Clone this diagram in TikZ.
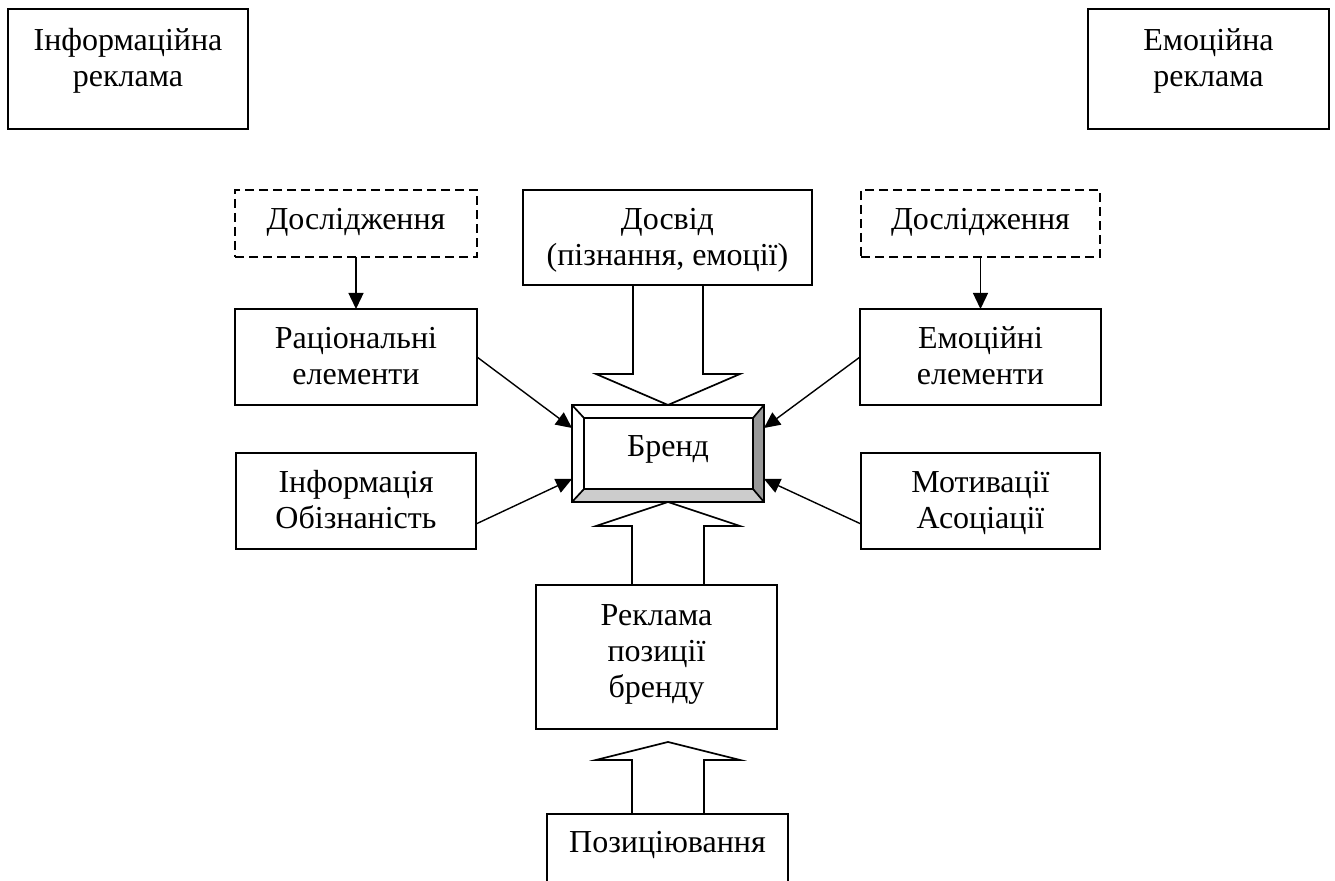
\documentclass[tikz,border=0pt]{standalone}
\usepackage{fontspec}
\setmainfont{Liberation Serif}
\usetikzlibrary{calc,arrows.meta}
\definecolor{bevellight}{HTML}{CCCCCC}
\definecolor{beveldark}{HTML}{999999}
\begin{document}
\begin{tikzpicture}[x=0.5pt,y=-0.5pt,
  box/.style={draw, line width=0.85pt, inner sep=0pt, outer sep=0pt, align=center,
    font=\fontsize{16pt}{18pt}\selectfont},
  dbox/.style={box, dash pattern=on 4.5pt off 2.5pt},
  arr/.style={line width=0.7pt, -{Triangle[length=8pt,width=7.5pt]}},
  blockarr/.style={line width=0.85pt}]
\useasboundingbox (0,0) rectangle (1335,881);
\clip (0,0) rectangle (1335,881);

% top corner boxes
\node[box, minimum width=120pt, minimum height=60pt, text height=28pt, text depth=10pt] (inf) at (128,69) {Інформаційна\\реклама};
\node[box, minimum width=120.5pt, minimum height=60pt, text height=28pt, text depth=10pt] (emr) at (1208.5,69) {Емоційна\\реклама};

% research boxes
\node[dbox, minimum width=121pt, minimum height=33.5pt, text height=10pt, text depth=3.5pt] (dl) at (356,223.5) {Дослідження};
\node[dbox, minimum width=119.5pt, minimum height=33.5pt, text height=10pt, text depth=3.5pt] (dr) at (980.5,223.5) {Дослідження};

% experience
\node[box, minimum width=144.5pt, minimum height=47.5pt, text height=28.5pt, text depth=0pt] (dosvid) at (667.5,237.5) {Досвід\\(пізнання, емоції)};

% side boxes
\node[box, minimum width=121pt, minimum height=48pt, text height=28pt, text depth=0pt] (rat) at (356,357) {Раціональні\\елементи};
\node[box, minimum width=120.5pt, minimum height=48pt, text height=28pt, text depth=0pt] (emo) at (980.5,357) {Емоційні\\елементи};
\node[box, minimum width=120pt, minimum height=48pt, text height=28pt, text depth=0pt] (info) at (356,501) {Інформація\\Обізнаність};
\node[box, minimum width=119.5pt, minimum height=48pt, text height=28pt, text depth=0pt] (mot) at (980.5,501) {Мотивації\\Асоціації};

% brand (bevelled)
\node[box, minimum width=96pt, minimum height=48.5pt, text height=10pt, text depth=7pt] (brand) at (668,453.5) {Бренд};
\coordinate (iNW) at ($(brand.north west)+(12,13)$);
\coordinate (iNE) at ($(brand.north east)+(-11,13)$);
\coordinate (iSE) at ($(brand.south east)+(-11,-13)$);
\coordinate (iSW) at ($(brand.south west)+(12,-13)$);
\fill[bevellight] (brand.south west) -- (brand.south east) -- (iSE) -- (iSW) -- cycle;
\fill[beveldark] (brand.south east) -- (brand.north east) -- (iNE) -- (iSE) -- cycle;
\draw[line width=0.85pt] (iNW) rectangle (iSE);
\draw[line width=0.85pt] (brand.north west) -- (iNW) (brand.north east) -- (iNE)
  (brand.south east) -- (iSE) (brand.south west) -- (iSW);
\draw[line width=0.85pt] (brand.north west) rectangle (brand.south east);

% lower boxes
\node[box, minimum width=120.5pt, minimum height=72pt, text height=47pt, text depth=6pt] (rek) at (656.5,657) {Реклама\\позиції\\бренду};
\node[box, minimum width=120.5pt, minimum height=48pt, text height=11pt, text depth=20pt] (pos) at (667.5,862) {Позиціювання};

% block arrow down: experience -> brand
\coordinate (a1l) at ($(brand.north)+(-35,-31)$);
\coordinate (a1w) at ($(brand.north)+(-72,-31)$);
\coordinate (a1e) at ($(brand.north)+(72,-31)$);
\coordinate (a1r) at ($(brand.north)+(35,-31)$);
\draw[blockarr] (a1l |- dosvid.south) -- (a1l) -- (a1w) -- (brand.north) -- (a1e) -- (a1r) -- (a1r |- dosvid.south);

% block arrow up: advertising -> brand
\coordinate (b1l) at ($(brand.south)+(-36,24)$);
\coordinate (b1w) at ($(brand.south)+(-72,24)$);
\coordinate (b1e) at ($(brand.south)+(72,24)$);
\coordinate (b1r) at ($(brand.south)+(36,24)$);
\draw[blockarr] (b1l |- rek.north) -- (b1l) -- (b1w) -- (brand.south) -- (b1e) -- (b1r) -- (b1r |- rek.north);

% block arrow up: positioning -> advertising
\coordinate (c1t) at ($(pos.north)+(0.5,-72)$);
\coordinate (c1l) at ($(c1t)+(-36,18)$);
\coordinate (c1w) at ($(c1t)+(-72,18)$);
\coordinate (c1e) at ($(c1t)+(72,18)$);
\coordinate (c1r) at ($(c1t)+(36,18)$);
\draw[blockarr] (c1l |- pos.north) -- (c1l) -- (c1w) -- (c1t) -- (c1e) -- (c1r) -- (c1r |- pos.north);

% thin arrows
\draw[arr] (dl.south) -- (rat.north);
\draw[arr] (dr.south) -- (emo.north);
\draw[arr] (rat.east) -- ($(brand.west)+(0,-25.5)$);
\draw[arr] ($(info.east)+(0,23)$) -- ($(brand.west)+(0,25.5)$);
\draw[arr] (emo.west) -- ($(brand.east)+(0,-25.5)$);
\draw[arr] ($(mot.west)+(0,23)$) -- ($(brand.east)+(0,25.5)$);
\end{tikzpicture}
\end{document}
